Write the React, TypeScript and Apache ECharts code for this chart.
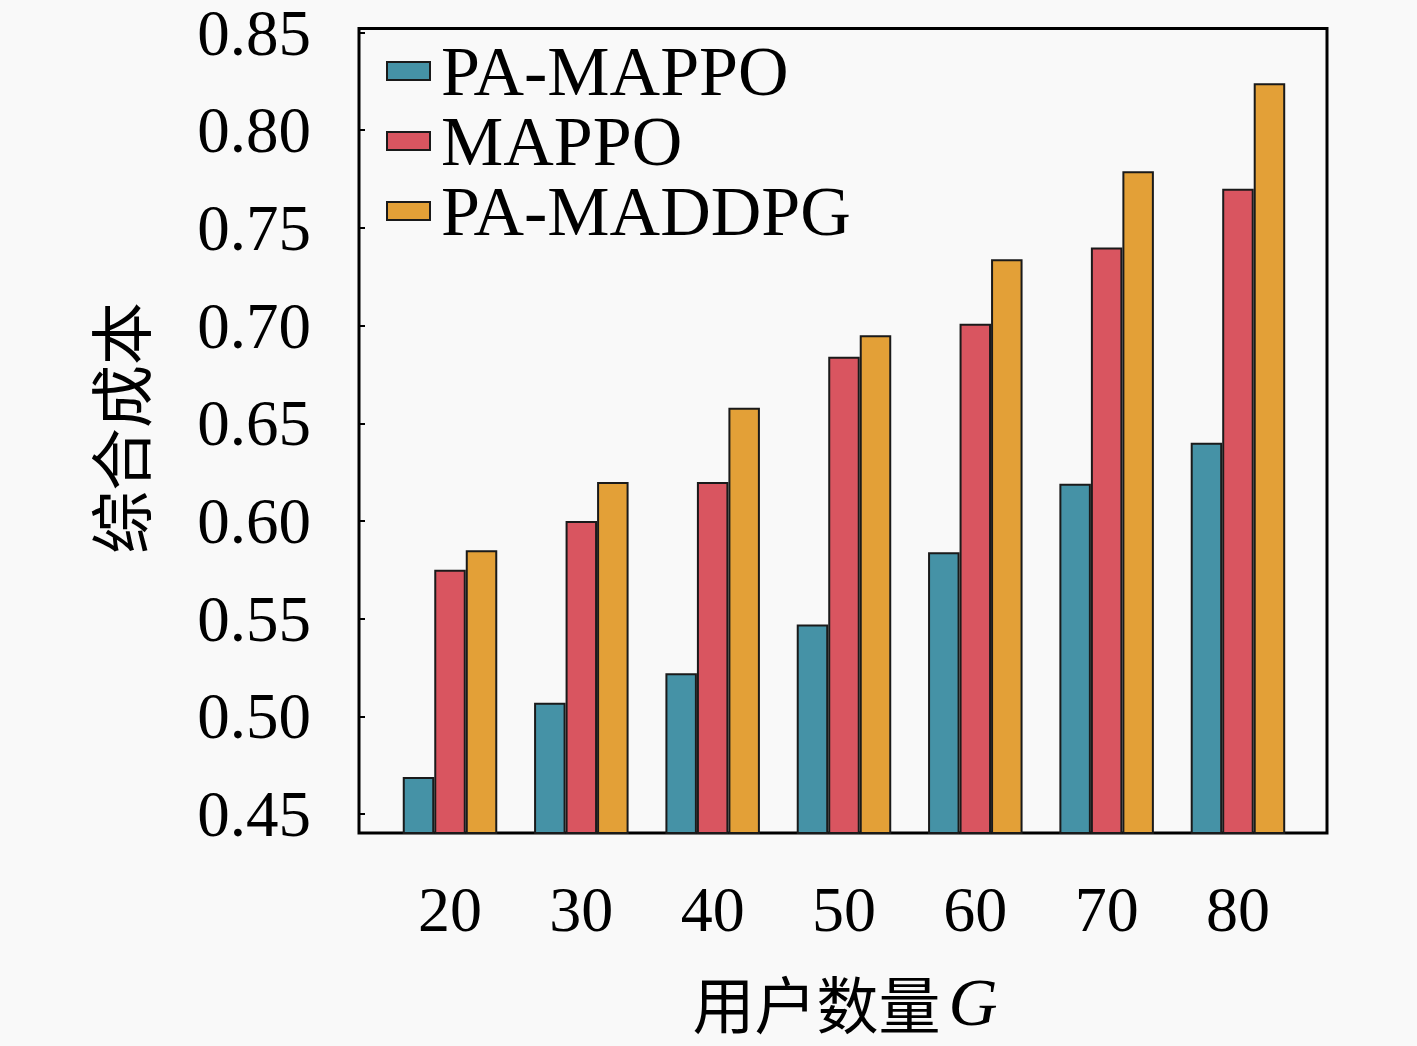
import React, { useEffect, useRef } from "react";
import * as echarts from "echarts";

const userCounts = [20, 30, 40, 50, 60, 70, 80];
const paMappo = [0.469, 0.507, 0.522, 0.547, 0.584, 0.619, 0.640];
const mappo = [0.575, 0.600, 0.620, 0.684, 0.701, 0.740, 0.770];
const paMaddpg = [0.585, 0.620, 0.658, 0.695, 0.734, 0.779, 0.824];
const yTicks = [0.45, 0.5, 0.55, 0.6, 0.65, 0.7, 0.75, 0.8, 0.85];
const seriesNames = ["PA-MAPPO", "MAPPO", "PA-MADDPG"];
const colors = ["#4592a6", "#d95560", "#e3a037"];

const serif = "'Liberation Serif', 'DejaVu Serif', serif";
const cjk = "'Noto Sans CJK SC', sans-serif";

export default function App() {
  const ref = useRef<HTMLDivElement>(null);
  useEffect(() => {
    if (!ref.current) return;
    const chart = echarts.init(ref.current, undefined, { renderer: "svg" });
    const data = [paMappo, mappo, paMaddpg];
    chart.setOption({
      animation: false,
      backgroundColor: "#f9f9f9",
      grid: {
        left: 359,
        top: 26,
        right: 90,
        bottom: 213,
        show: true,
        borderColor: "#000",
        borderWidth: 3,
        backgroundColor: "transparent",
      },
      legend: {
        orient: "vertical",
        left: 381,
        top: 31,
        itemWidth: 43,
        itemHeight: 18,
        itemGap: 0,
        icon: "rect",
        data: seriesNames,
        textStyle: {
          fontFamily: serif,
          fontSize: 70,
          color: "#000",
          padding: [0, 0, 0, 6],
        },
      },
      xAxis: {
        type: "value",
        min: 13.07,
        max: 86.78,
        splitLine: { show: false },
        axisLine: { show: false },
        axisTick: { show: false },
        axisLabel: {
          customValues: userCounts,
          fontFamily: serif,
          fontSize: 64,
          color: "#000",
          margin: 44,
          formatter: (v: number) => String(v),
        },
      },
      yAxis: {
        type: "value",
        min: 0.4403,
        max: 0.852,
        splitLine: { show: false },
        axisLine: { show: false },
        axisTick: {
          show: true,
          inside: true,
          length: 6,
          customValues: yTicks,
          lineStyle: { color: "#000", width: 2 },
        },
        axisLabel: {
          customValues: yTicks,
          fontFamily: serif,
          fontSize: 65,
          lineHeight: 54,
          color: "#000",
          margin: 48,
          formatter: (v: number) => v.toFixed(2),
        },
      },
      series: data.map((vals, i) => ({
        name: seriesNames[i],
        type: "bar",
        barWidth: 31.5,
        barGap: "0%",
        data: userCounts.map((x, j) => [x, vals[j]]),
        itemStyle: {
          color: colors[i],
          borderColor: "#1a1a1a",
          borderWidth: 2,
        },
      })),
      graphic: [
        {
          type: "text",
          x: 117,
          y: 428,
          rotation: Math.PI / 2,
          style: {
            text: "综合成本",
            fontFamily: cjk,
            fontSize: 63,
            fill: "#000",
            align: "center",
            verticalAlign: "middle",
          },
        },
        {
          type: "text",
          x: 845,
          y: 1002,
          style: {
            text: "{a|用户数量}{b|G}",
            align: "center",
            verticalAlign: "middle",
            rich: {
              a: { fontFamily: cjk, fontSize: 62, lineHeight: 62, fill: "#000" },
              b: {
                fontFamily: serif,
                fontStyle: "italic",
                fontSize: 68,
                lineHeight: 62,
                fill: "#000",
                padding: [0, 0, 0, 8],
              },
            },
          },
        },
      ],
    });
    return () => chart.dispose();
  }, []);
  return (
    <div
      ref={ref}
      style={{ position: "fixed", left: 0, top: 0, width: 1417, height: 1046 }}
    />
  );
}
